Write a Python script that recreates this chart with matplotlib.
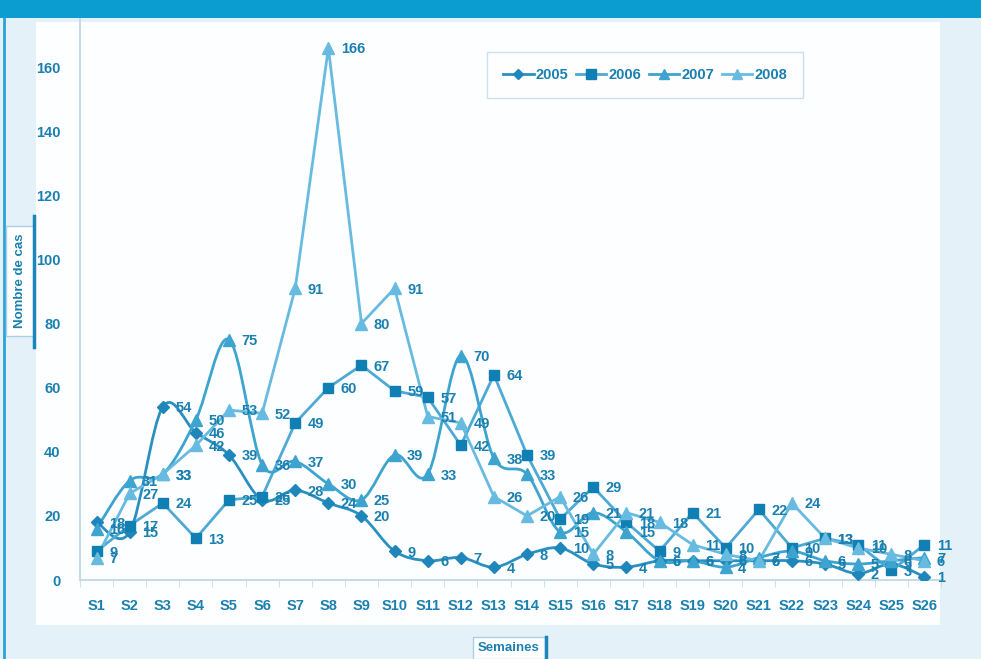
import matplotlib
matplotlib.use('Agg')
import matplotlib.pyplot as plt
from matplotlib.path import Path
from matplotlib.patches import PathPatch, Rectangle
from matplotlib.lines import Line2D

plt.rcParams['font.family'] = ['Liberation Sans', 'DejaVu Sans']

# weekly cases per year
semaines = ['S1', 'S2', 'S3', 'S4', 'S5', 'S6', 'S7', 'S8', 'S9', 'S10', 'S11', 'S12', 'S13',
            'S14', 'S15', 'S16', 'S17', 'S18', 'S19', 'S20', 'S21', 'S22', 'S23', 'S24', 'S25', 'S26']
cas_2005 = [18, 15, 54, 46, 39, 25, 28, 24, 20, 9, 6, 7, 4, 8, 10, 5, 4, 6, 6, 6, 6, 6, 5, 2, 5, 1]
cas_2006 = [9, 17, 24, 13, 25, 26, 49, 60, 67, 59, 57, 42, 64, 39, 19, 29, 18, 9, 21, 10, 22, 10, 13, 11, 3, 11]
cas_2007 = [16, 31, 33, 50, 75, 36, 37, 30, 25, 39, 33, 70, 38, 33, 15, 21, 15, 6, 6, 4, 7, 9, 6, 5, 6, 7]
cas_2008 = [7, 27, 33, 42, 53, 52, 91, 166, 80, 91, 51, 49, 26, 20, 26, 8, 21, 18, 11, 8, 6, 24, 13, 10, 8, 6]
annees = ['2005', '2006', '2007', '2008']

txt_col = '#1a80b0'


def smooth_path(xs, ys):
    # excel-like smoothed line (catmull-rom as bezier)
    verts = [(xs[0], ys[0])]
    codes = [Path.MOVETO]
    n = len(xs)
    for i in range(n - 1):
        xa, ya = (xs[i - 1], ys[i - 1]) if i > 0 else (xs[i], ys[i])
        xb, yb = (xs[i + 2], ys[i + 2]) if i + 2 < n else (xs[i + 1], ys[i + 1])
        c1 = (xs[i] + (xs[i + 1] - xa) / 6, ys[i] + (ys[i + 1] - ya) / 6)
        c2 = (xs[i + 1] - (xb - xs[i]) / 6, ys[i + 1] - (yb - ys[i]) / 6)
        verts += [c1, c2, (xs[i + 1], ys[i + 1])]
        codes += [Path.CURVE4] * 3
    return Path(verts, codes)


fig = plt.figure(figsize=(9.81, 6.59), dpi=100, facecolor='#e4f1f9')
W, H = 981, 659

# page decoration
fig.patches.append(Rectangle((36 / W, 1 - 625 / H), 904 / W, 603 / H, transform=fig.transFigure,
                             facecolor='#fdfeff', edgecolor='none', zorder=-1))
fig.patches.append(Rectangle((0, 1 - 18 / H), 1, 18 / H, transform=fig.transFigure,
                             facecolor='#0b9dcf', edgecolor='none', zorder=5))
fig.lines.append(Line2D([4 / W, 4 / W], [0, 1 - 18 / H], transform=fig.transFigure,
                        color='#2aa3d6', lw=2))

ax = fig.add_axes([80 / W, 1 - 580 / H, 861 / W, 561 / H])
ax.set_facecolor('none')
ax.set_zorder(2)

x = list(range(len(semaines)))
series = [
    (cas_2005, 'D', 6, '#2a90c2', '#1f86bb', True),
    (cas_2006, 's', 7.5, '#4ea9d4', '#0f7fb4', False),
    (cas_2007, '^', 8, '#3da4d0', '#3da4d0', True),
    (cas_2008, '^', 8, '#68bbe0', '#68bbe0', False),
]

handles = []
for (vals, mk, ms, lc, mc, smooth), an in zip(series, annees):
    if smooth:
        ax.add_patch(PathPatch(smooth_path(x, vals), fill=False, edgecolor=lc, lw=2, zorder=2))
    else:
        ax.plot(x, vals, color=lc, lw=2, zorder=2)
    ax.plot(x, vals, linestyle='none', marker=mk, ms=ms, color=mc, zorder=3)
    handles.append(Line2D([], [], color=lc, lw=2, marker=mk, ms=ms - 1, markerfacecolor=mc,
                          markeredgecolor=mc, label=an))
    for i, v in enumerate(vals):
        ax.annotate(str(v), (i, v), xytext=(9, -1), textcoords='offset points',
                    ha='left', va='center', fontsize=10.5, fontweight='bold', color=txt_col, zorder=4)

ax.set_xlim(-0.5, len(semaines) - 0.5)
ax.set_ylim(0, 175)
ax.set_yticks(range(0, 161, 20))
ax.set_xticks(x)
ax.set_xticklabels(semaines)
ax.set_xticks([i - 0.5 for i in range(len(semaines) + 1)], minor=True)
ax.tick_params(axis='x', which='major', length=0, pad=14, labelsize=10.5, labelcolor=txt_col)
ax.tick_params(axis='x', which='minor', length=5, color='#c5dbe7')
ax.tick_params(axis='y', length=0, pad=14, labelsize=10.5, labelcolor=txt_col)
for lab in ax.get_xticklabels() + ax.get_yticklabels():
    lab.set_fontweight('bold')
for s in ['top', 'right']:
    ax.spines[s].set_visible(False)
ax.spines['left'].set_color('#c5dbe7')
ax.spines['bottom'].set_color('#c5dbe7')
ax.spines['left'].set_linewidth(1.5)
ax.spines['bottom'].set_linewidth(1.5)

leg = fig.legend(handles=handles, loc='center', bbox_to_anchor=(645 / W, 1 - 75 / H), ncol=4,
                 frameon=True, fancybox=False, edgecolor='#bcdaea', facecolor='white',
                 handlelength=2.1, columnspacing=0.5, handletextpad=0.15, borderpad=1.1,
                 prop={'weight': 'bold', 'size': 10.5})
leg.set_zorder(6)
for t in leg.get_texts():
    t.set_color(txt_col)

# axis titles in small boxes
fig.text(20 / W, 1 - 281 / H, 'Nombre de cas', rotation=90, ha='center', va='center',
         fontsize=9.5, fontweight='bold', color=txt_col,
         bbox=dict(boxstyle='square,pad=0.6', facecolor='white', edgecolor='#a9d0e4', lw=1))
fig.lines.append(Line2D([34 / W, 34 / W], [1 - 347 / H, 1 - 216 / H], transform=fig.transFigure,
                        color='#1a86bb', lw=2.5, zorder=10))
fig.text(509 / W, 1 - 648 / H, 'Semaines', ha='center', va='center',
         fontsize=9.5, fontweight='bold', color=txt_col,
         bbox=dict(boxstyle='square,pad=0.4', facecolor='white', edgecolor='#a9d0e4', lw=1))
fig.lines.append(Line2D([546 / W, 546 / W], [0, 1 - 637 / H], transform=fig.transFigure,
                        color='#1a86bb', lw=2.5, zorder=10))

fig.savefig('out.png', dpi=100, facecolor=fig.get_facecolor())
